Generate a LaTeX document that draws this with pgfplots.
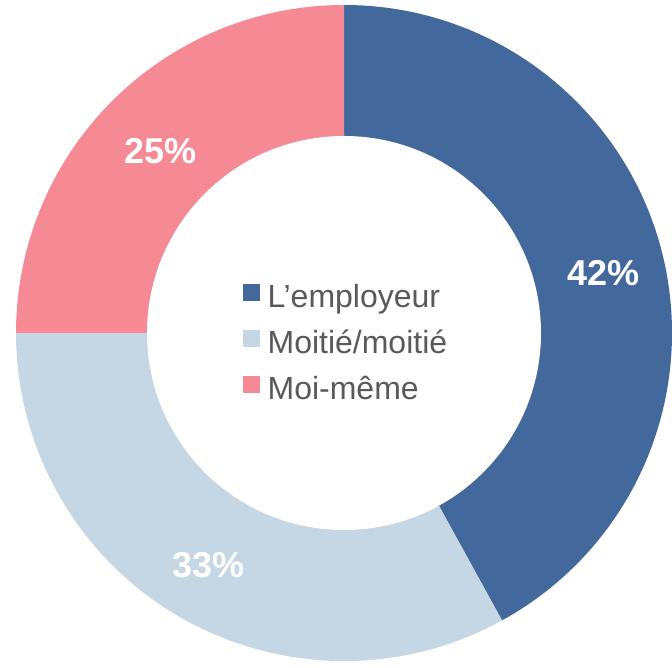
\documentclass[border=0pt]{standalone}
\usepackage{pgfplots}
\pgfplotsset{compat=1.18}
\usepackage{fontspec}
\setmainfont{Liberation Sans}
\definecolor{cA}{HTML}{43699C}
\definecolor{cB}{HTML}{C5D7E5}
\definecolor{cC}{HTML}{F58A95}
\definecolor{txt}{HTML}{595959}
% data (percent)
\def\vA{42}\def\vB{33}\def\vC{25}
\begin{document}
\begin{tikzpicture}
\pgfmathsetmacro\aA{90}
\pgfmathsetmacro\aB{\aA-3.6*\vA}
\pgfmathsetmacro\aC{\aB-3.6*\vB}
\pgfmathsetmacro\aD{\aC-3.6*\vC}
\pgfmathsetmacro\mA{(\aA+\aB)/2}
\pgfmathsetmacro\mB{(\aB+\aC)/2}
\pgfmathsetmacro\mC{(\aC+\aD)/2}
\begin{axis}[
  name=ax,
  hide axis, x=1pt, y=1pt,
  xmin=0, xmax=672, ymin=0, ymax=668,
  clip=false,
  legend image code/.code={\fill[#1] (0pt,0pt) rectangle (16pt,16pt);},
  legend cell align=left,
  legend style={draw=none, fill=none, inner sep=0pt,
    at={(axis cs:243,384)}, anchor=north west,
    font=\fontsize{32}{38}\selectfont, text=txt,
    nodes={font=\fontsize{32}{38}\selectfont, text height=22pt, text depth=7pt, inner sep=0pt},
    row sep=15pt, column sep=8pt},
]
\addlegendimage{cA}\addlegendentry{L’employeur}
\addlegendimage{cB}\addlegendentry{Moitié/moitié}
\addlegendimage{cC}\addlegendentry{Moi-même}
\fill[cA] (axis cs:344,335) -- ++(\aA:328pt) arc[start angle=\aA, end angle=\aB, radius=328pt] -- cycle;
\fill[cB] (axis cs:344,335) -- ++(\aB:328pt) arc[start angle=\aB, end angle=\aC, radius=328pt] -- cycle;
\fill[cC] (axis cs:344,335) -- ++(\aC:328pt) arc[start angle=\aC, end angle=\aD, radius=328pt] -- cycle;
\fill[white] (axis cs:344,335) circle[radius=197pt];
\path (axis cs:344,335) ++(\mA:264pt) node[xshift=4pt, yshift=-6pt, text=white, font=\bfseries\fontsize{36}{40}\selectfont] {\vA\%};
\path (axis cs:344,335) ++(\mB:266pt) node[yshift=-3pt, text=white, font=\bfseries\fontsize{36}{40}\selectfont] {\vB\%};
\path (axis cs:344,335) ++(\mC:260pt) node[yshift=-2pt, text=white, font=\bfseries\fontsize{36}{40}\selectfont] {\vC\%};
\end{axis}
\pgfresetboundingbox
\path (ax.south west) rectangle (ax.north east);
\end{tikzpicture}
\end{document}
